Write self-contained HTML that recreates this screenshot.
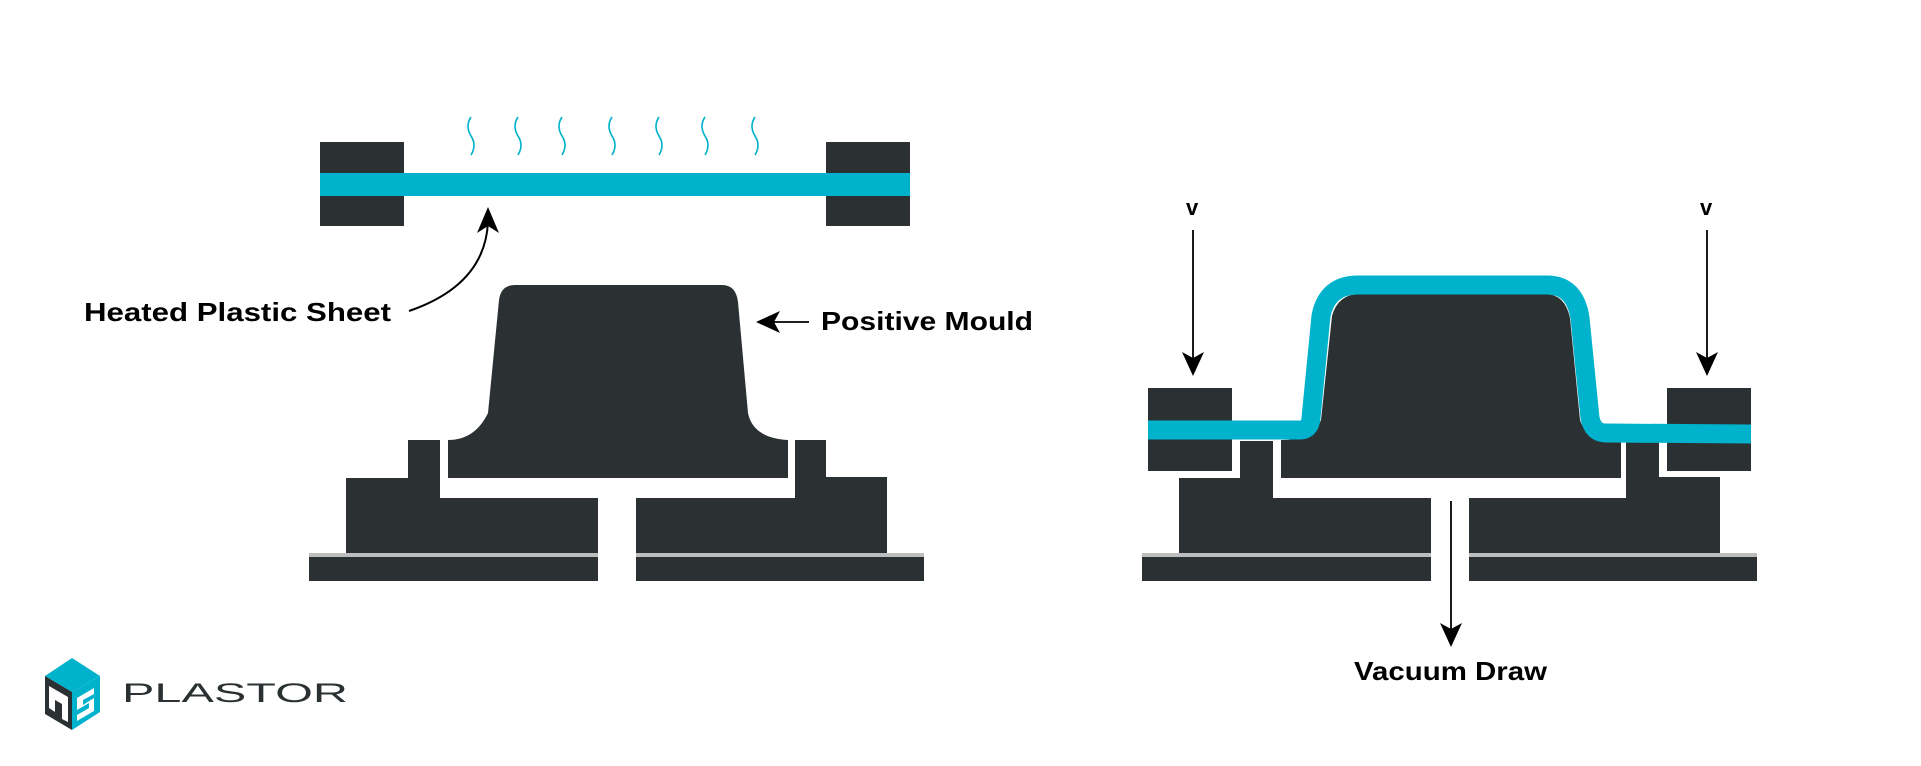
<!DOCTYPE html>
<html><head><meta charset="utf-8"><style>html,body{margin:0;padding:0;background:#fff}svg{display:block}</style></head>
<body>
<svg width="1921" height="766" viewBox="0 0 1921 766" xmlns="http://www.w3.org/2000/svg">
<g fill="#2b3133">
<!-- LEFT -->
<rect x="320" y="142" width="84" height="84"/>
<rect x="826" y="142" width="84" height="84"/>
<path d="M499,300 Q501,285 515,285 L722,285 Q736,285 738,302 L748,413 Q753,438 788,440 L788,478 L448,478 L448,440 Q475,440 488,413 Z"/>
<path d="M408,440 L440,440 L440,498 L598,498 L598,553 L346,553 L346,478 L408,478 Z"/>
<path d="M795,440 L826,440 L826,477 L887,477 L887,553 L636,553 L636,498 L795,498 Z"/>
<rect x="309" y="557" width="289" height="24"/>
<rect x="636" y="557" width="288" height="24"/>
<!-- RIGHT -->
<rect x="1148" y="388" width="84" height="83"/>
<rect x="1667" y="388" width="84" height="83"/>
<path d="M1332,316 Q1338,294 1360,294 L1545,294 Q1565,294 1570,318 L1580,420 Q1586,440 1621,440 L1621,478 L1281,478 L1281,440 Q1313,440 1321,420 Z"/>
<path d="M1240,441 L1273,441 L1273,498 L1431,498 L1431,553 L1179,553 L1179,478 L1240,478 Z"/>
<path d="M1626,441 L1659,441 L1659,477 L1720,477 L1720,553 L1469,553 L1469,498 L1626,498 Z"/>
<rect x="1142" y="557" width="289" height="24"/>
<rect x="1469" y="557" width="288" height="24"/>
</g>
<g fill="#bdbdbd">
<rect x="309" y="553" width="289" height="4"/><rect x="636" y="553" width="288" height="4"/>
<rect x="1142" y="553" width="289" height="4"/><rect x="1469" y="553" width="288" height="4"/>
</g>
<!-- left sheet -->
<rect x="320" y="173" width="590" height="23" fill="#00b2cc"/>
<g fill="none" stroke="#00b2cc" stroke-width="1.6">
<path d="M471,117 q-6,9 0,19 q6,9 0,19"/><path d="M518,117 q-6,9 0,19 q6,9 0,19"/>
<path d="M562,117 q-6,9 0,19 q6,9 0,19"/><path d="M612,117 q-6,9 0,19 q6,9 0,19"/>
<path d="M659,117 q-6,9 0,19 q6,9 0,19"/><path d="M705,117 q-6,9 0,19 q6,9 0,19"/>
<path d="M755,117 q-6,9 0,19 q6,9 0,19"/>
</g>
<!-- right formed sheet -->
<path d="M1148,430 L1300,430 Q1310,430 1311,418 L1321,316 Q1327,285 1358,285 L1547,285 Q1575,285 1580,318 L1590,418 Q1593,433 1606,433 L1751,434" fill="none" stroke="#00b2cc" stroke-width="19" stroke-linejoin="round"/>
<!-- arrows -->
<g stroke="#000" stroke-width="1.8" fill="none">
<path d="M409,311 Q485,285 488,222" stroke-width="2"/>
<line x1="809" y1="322" x2="770" y2="322"/>
<line x1="1193" y1="230" x2="1193" y2="362"/>
<line x1="1707" y1="230" x2="1707" y2="362"/>
<line x1="1451" y1="501" x2="1451" y2="634"/>
</g>
<g stroke="none" fill="#000">
<path d="M488,207 L477,233 L488,226 L499,233 Z"/>
<path d="M756,322 L780,311 L774,322 L780,333 Z"/>
<path d="M1193,376 L1182,352 L1193,358 L1204,352 Z"/>
<path d="M1707,376 L1696,352 L1707,358 L1718,352 Z"/>
<path d="M1451,647 L1440,623 L1451,629 L1462,623 Z"/>
</g>
<g font-family="'Liberation Sans', sans-serif" font-weight="bold" fill="#000">
<text x="84" y="321" font-size="26" textLength="307" lengthAdjust="spacingAndGlyphs">Heated Plastic Sheet</text>
<text x="821" y="330" font-size="26" textLength="212" lengthAdjust="spacingAndGlyphs">Positive Mould</text>
<text x="1354" y="680" font-size="26" textLength="193" lengthAdjust="spacingAndGlyphs">Vacuum Draw</text>
<text x="1186" y="215" font-size="22">v</text>
<text x="1700" y="215" font-size="22">v</text>
</g>
<!-- logo -->
<path d="M45,676 L72,658 L100,676 L72,692 Z" fill="#00b2cc"/>
<path d="M72,692 L100,676 L100,712 L72,730 Z" fill="#00b2cc"/>
<path d="M45,676 L72,692 L72,730 L45,714 Z" fill="#2b3133"/>
<path d="M49,686 L68,697 L68,722 L62,719 L62,704 L55,700 L55,712 L49,708 Z" fill="#fff"/>
<path d="M94,688 L77,698 L77,710 L89,703 L89,708 L77,715 L77,721 L94,711 L94,698 L83,705 L83,700 L94,694 Z" fill="#fff"/>
<text x="122" y="702" font-family="'Liberation Sans', sans-serif" font-size="27" fill="#2b3133" textLength="226" lengthAdjust="spacingAndGlyphs">PLASTOR</text>
</svg>
</body></html>
